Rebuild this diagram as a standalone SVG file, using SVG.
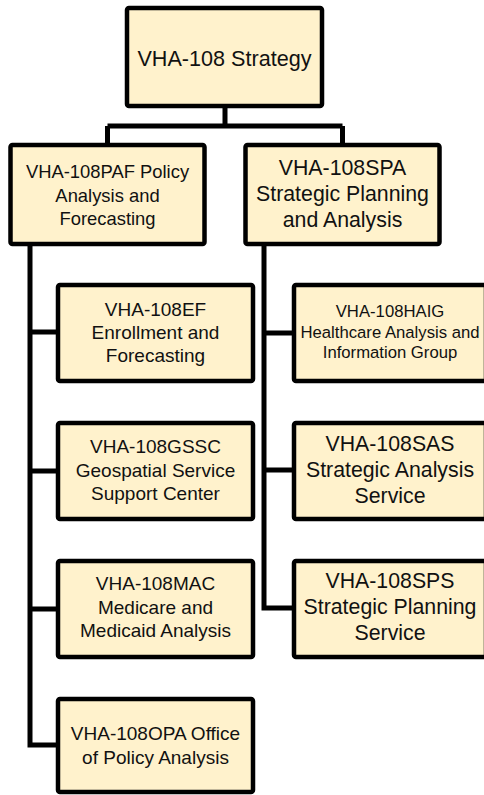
<svg xmlns="http://www.w3.org/2000/svg" width="484" height="795" viewBox="0 0 484 795">
<style>
.box{fill:#FFF2CC;stroke:#000;stroke-width:4.5}
.ln{fill:none;stroke:#000;stroke-width:5;stroke-linejoin:miter}
text{font-family:"Liberation Sans",Arial,sans-serif;fill:#111;text-anchor:middle}
.f19{font-size:19px}
.f21{font-size:21.3px}
.f18{font-size:18.4px}
.f17{font-size:16.7px}
</style>
<rect width="484" height="795" fill="#fff"/>
<g id="connectors">
<path class="ln" d="M225,106 V126 M107.5,126 H342.5 M107.5,126 V145 M342.5,126 V145"/>
<path class="ln" d="M30,246 V745 H56 M30,332 H56 M30,471 H56 M30,609 H56"/>
<path class="ln" d="M264,246 V608 H292 M264,333 H292 M264,470 H292"/>
</g>
<g id="vha108">
<rect class="box" x="127" y="8" width="195" height="98" rx="2"/>
<text x="224.5" y="66" style="font-size:21.6px">VHA-108 Strategy</text>
</g>
<g id="paf">
<rect class="box" x="10.5" y="145" width="194" height="99" rx="2"/>
<text class="f18" x="107.5" y="178">VHA-108PAF Policy</text>
<text class="f18" x="107.5" y="201.5">Analysis and</text>
<text class="f18" x="107.5" y="225">Forecasting</text>
</g>
<g id="spa">
<rect class="box" x="245.5" y="145" width="194" height="99" rx="2"/>
<text class="f21" x="342.5" y="175">VHA-108SPA</text>
<text class="f21" x="342.5" y="201">Strategic Planning</text>
<text class="f21" x="342.5" y="227">and Analysis</text>
</g>
<g id="ef">
<rect class="box" x="58" y="285" width="195" height="96" rx="2"/>
<text class="f19" x="155.5" y="316">VHA-108EF</text>
<text class="f19" x="155.5" y="339">Enrollment and</text>
<text class="f19" x="155.5" y="362">Forecasting</text>
</g>
<g id="gssc">
<rect class="box" x="58" y="423" width="195" height="96" rx="2"/>
<text class="f19" x="155.5" y="453">VHA-108GSSC</text>
<text class="f19" x="155.5" y="476.5">Geospatial Service</text>
<text class="f19" x="155.5" y="500">Support Center</text>
</g>
<g id="mac">
<rect class="box" x="58" y="561" width="195" height="96" rx="2"/>
<text class="f19" x="155.5" y="590">VHA-108MAC</text>
<text class="f19" x="155.5" y="613.5">Medicare and</text>
<text class="f19" x="155.5" y="637">Medicaid Analysis</text>
</g>
<g id="opa">
<rect class="box" x="58" y="699" width="195" height="93" rx="2"/>
<text class="f19" x="155.5" y="740">VHA-108OPA Office</text>
<text class="f19" x="155.5" y="763.5">of Policy Analysis</text>
</g>
<g id="haig">
<rect class="box" x="294" y="285" width="192" height="96" rx="2"/>
<text class="f17" x="390" y="317">VHA-108HAIG</text>
<text class="f17" x="390" y="337.5">Healthcare Analysis and</text>
<text class="f17" x="390" y="358">Information Group</text>
</g>
<g id="sas">
<rect class="box" x="294" y="423" width="192" height="96" rx="2"/>
<text class="f21" x="390" y="450.5">VHA-108SAS</text>
<text class="f21" x="390" y="476.5">Strategic Analysis</text>
<text class="f21" x="390" y="502.5">Service</text>
</g>
<g id="sps">
<rect class="box" x="294" y="561" width="192" height="96" rx="2"/>
<text class="f21" x="390" y="587.5">VHA-108SPS</text>
<text class="f21" x="390" y="613.5">Strategic Planning</text>
<text class="f21" x="390" y="639.5">Service</text>
</g>
</svg>
